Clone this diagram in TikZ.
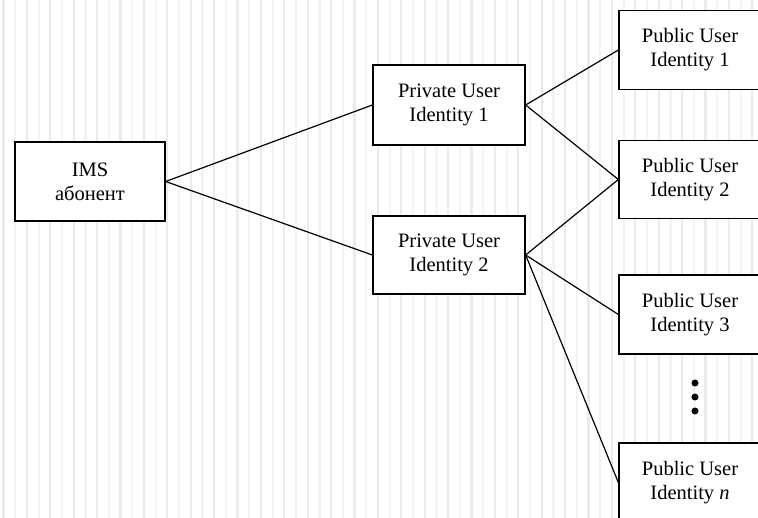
\documentclass[tikz,border=0pt]{standalone}
\usepackage{fontspec}
\setmainfont{Liberation Serif}
\begin{document}
\begin{tikzpicture}[x=1pt,y=-1pt,
  idbox/.style={draw=black,line width=1.3pt,fill=white,inner sep=0pt,
    align=center,font=\fontsize{20.5}{24}\selectfont},
  link/.style={draw=black,line width=1.2pt},
  stripe/.style={line width=2.2pt},
  dot/.style={circle,fill=black,inner sep=0pt,minimum size=7pt}]
  % page frame and striped background
  \useasboundingbox (0,0) rectangle (758,518);
  \fill[white] (0,0) rectangle (758,518);
  \foreach \i in {0,...,64}{
    \pgfmathsetmacro{\xs}{3.5+11.7*\i}
    \pgfmathtruncatemacro{\odd}{mod(\i,2)}
    \ifnum\odd=0 \def\shade{gray!16}\else\def\shade{gray!9}\fi
    \draw[stripe,draw=\shade] (\xs,0) -- (\xs,518);
  }
  \begin{scope}
    \clip (0,0) rectangle (758,518);
    % identity boxes
    \node[idbox,minimum width=150pt,minimum height=79pt] (ims) at (90,181.5) {IMS\\абонент};
    \node[idbox,minimum width=152pt,minimum height=80pt] (priv1) at (449,105) {Private User\\Identity 1};
    \node[idbox,minimum width=152pt,minimum height=78pt] (priv2) at (449,255) {Private User\\Identity 2};
    \node[idbox,minimum width=142pt,minimum height=79pt] (pub1) at (690,50) {Public User\\Identity 1};
    \node[idbox,minimum width=142pt,minimum height=78pt] (pub2) at (690,179.5) {Public User\\Identity 2};
    \node[idbox,minimum width=142pt,minimum height=79pt] (pub3) at (690,314.5) {Public User\\Identity 3};
    \node[idbox,minimum width=142pt,minimum height=79pt] (pubn) at (690,482.5) {Public User\\Identity \textit{n}};
    % continuation dots
    \node[dot] (d1) at (695,383) {};
    \node[dot] (d2) at (695,397) {};
    \node[dot] (d3) at (695,411) {};
    % connectors
    \draw[link] (ims.east) -- (priv1.west);
    \draw[link] (ims.east) -- (priv2.west);
    \draw[link] (priv1.east) -- (pub1.west);
    \draw[link] (priv1.east) -- (pub2.west);
    \draw[link] (priv2.east) -- (pub2.west);
    \draw[link] (priv2.east) -- (pub3.west);
    \draw[link] (priv2.east) -- (pubn.west);
  \end{scope}
\end{tikzpicture}
\end{document}
